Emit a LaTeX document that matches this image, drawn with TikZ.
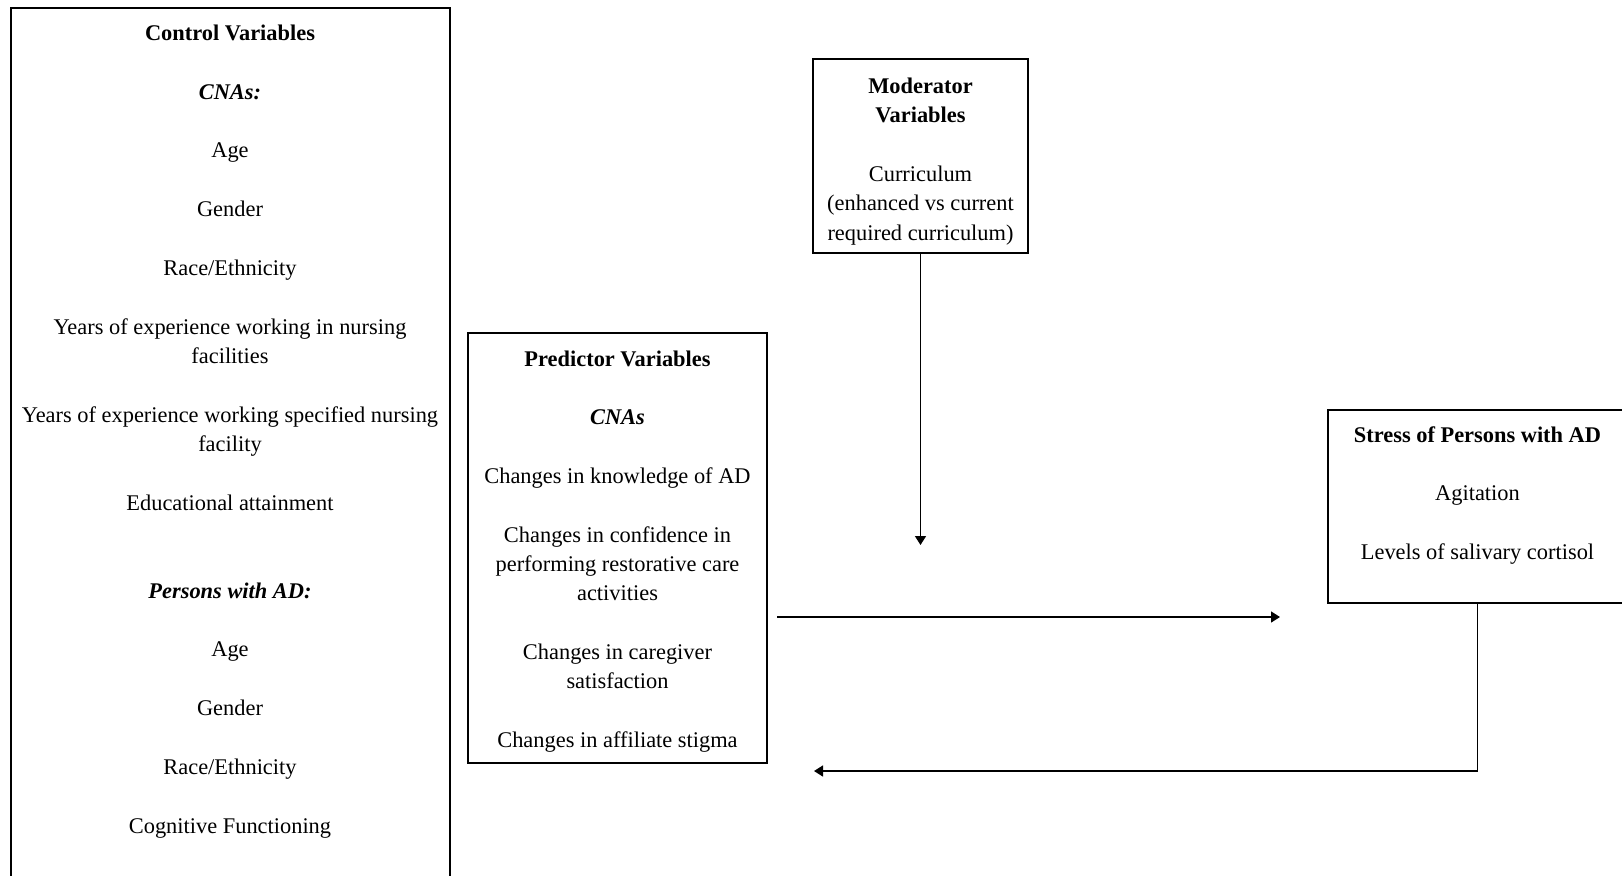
\documentclass[tikz,border=0pt]{standalone}
\usepackage{fontspec}
\setmainfont{Liberation Serif}
\usetikzlibrary{arrows.meta,calc}
\begin{document}
\begin{tikzpicture}[x=0.5pt,y=-0.5pt,
  box/.style={draw, line width=1pt, inner sep=0pt, outer sep=0pt, anchor=north west},
  lbl/.style={anchor=base, inner sep=0pt, text=black, font=\fontsize{11.2pt}{14.7pt}\selectfont},
  head/.style={lbl, font=\fontsize{11.2pt}{14.7pt}\selectfont\bfseries},
  subhead/.style={lbl, font=\fontsize{11.2pt}{14.7pt}\selectfont\bfseries\itshape},
  arr/.style={line width=0.75pt, -{Triangle[width=5.5pt,length=4.5pt]}}]
\useasboundingbox (0,0) rectangle (1622,875);
\clip (0,0) rectangle (1622,875);
% boxes
\node[box, minimum width=219.5pt, minimum height=445pt] (ctrl) at (11,8) {};
\node[box, minimum width=107.5pt, minimum height=97pt] (mod) at (813,59) {};
\node[box, minimum width=149.5pt, minimum height=215pt] (pred) at (468,333) {};
\node[box, minimum width=149.5pt, minimum height=96.5pt] (stress) at (1328,410) {};
% control variables
\node[head] (c0) at (230,40.5) {Control Variables};
\node[subhead] (c1) at (230,99.2) {CNAs:};
\node[lbl] (c2) at (230,157.9) {Age};
\node[lbl] (c3) at (230,216.6) {Gender};
\node[lbl] (c4) at (230,275.3) {Race/Ethnicity};
\node[lbl] (c5) at (230,334.0) {Years of experience working in nursing};
\node[lbl] (c6) at (230,363.4) {facilities};
\node[lbl] (c7) at (230,422.1) {Years of experience working specified nursing};
\node[lbl] (c8) at (230,451.4) {facility};
\node[lbl] (c9) at (230,510.1) {Educational attainment};
\node[subhead] (c10) at (230,598.2) {Persons with AD:};
\node[lbl] (c11) at (230,656.9) {Age};
\node[lbl] (c12) at (230,715.6) {Gender};
\node[lbl] (c13) at (230,774.3) {Race/Ethnicity};
\node[lbl] (c14) at (230,833.0) {Cognitive Functioning};
% moderator
\node[head] (m0) at (920.5,93.3) {Moderator};
\node[head] (m1) at (920.5,122.7) {Variables};
\node[lbl] (m2) at (920.5,181.4) {Curriculum};
\node[lbl] (m3) at (920.5,210.8) {(enhanced vs current};
\node[lbl] (m4) at (920.5,240.1) {required curriculum)};
% predictor
\node[head] (p0) at (617.5,366) {Predictor Variables};
\node[subhead] (p1) at (617.5,424.7) {CNAs};
\node[lbl] (p2) at (617.5,483.4) {Changes in knowledge of AD};
\node[lbl] (p3) at (617.5,542.1) {Changes in confidence in};
\node[lbl] (p4) at (617.5,571.5) {performing restorative care};
\node[lbl] (p5) at (617.5,600.8) {activities};
\node[lbl] (p6) at (617.5,659.5) {Changes in caregiver};
\node[lbl] (p7) at (617.5,688.9) {satisfaction};
\node[lbl] (p8) at (617.5,747.6) {Changes in affiliate stigma};
% stress
\node[head] (s0) at (1477.5,442) {Stress of Persons with AD};
\node[lbl] (s1) at (1477.5,500.7) {Agitation};
\node[lbl] (s2) at (1477.5,559.4) {Levels of salivary cortisol};
% connectors
\coordinate (modend) at (920.5,545);
\draw[arr] (mod.south) -- (modend);
\coordinate (pa) at (777,617);
\coordinate (pb) at (1280,617);
\draw[arr] (pa) -- (pb);
\coordinate (fb) at (814,771);
\draw[arr] (stress.south) |- (fb);
\end{tikzpicture}
\end{document}
